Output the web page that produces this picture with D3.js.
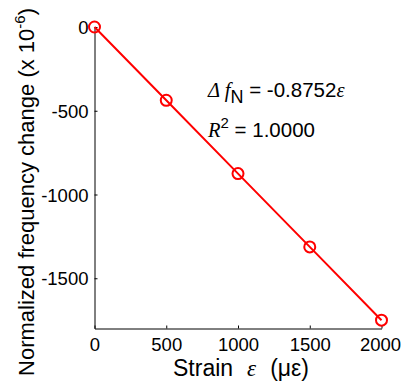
<!DOCTYPE html>
<html>
<head>
<meta charset="utf-8">
<script src="https://cdn.jsdelivr.net/npm/d3@7"></script>
<style>
body { margin: 0; background: #fff; }
text { font-family: "Liberation Sans", Arial, sans-serif; }
</style>
</head>
<body>
<script>
// strain (micro-strain) and normalized frequency change (x 1e-6)
var strain = [0, 500, 1000, 1500, 2000];
var freqChange = [0, -437.6, -875.2, -1312.8, -1750.4];
var xTicks = [0, 500, 1000, 1500, 2000];
var yTicks = [0, -500, -1000, -1500];

var width = 401, height = 386;

var svg = d3.select('body')
        .append('svg')
        .attr('width', width)
        .attr('height', height);

var x = d3.scaleLinear()
        .domain([0, 2000])
        .range([94.5, 381.5]);

var y = d3.scaleLinear()
        .domain([-1800, 0])
        .range([328.5, 27]);

var plain = function(d) { return String(d); };

// x axis
var xAxis = svg.append('g')
        .attr('transform', 'translate(0,328.5)')
        .call(d3.axisBottom(x).tickValues(xTicks).tickFormat(plain)
              .tickSizeInner(-3).tickSizeOuter(0).tickPadding(9));

// y axis
var yAxis = svg.append('g')
        .attr('transform', 'translate(94.5,0)')
        .call(d3.axisLeft(y).tickValues(yTicks).tickFormat(plain)
              .tickSizeInner(-3).tickSizeOuter(0).tickPadding(6));

svg.selectAll('.domain').attr('stroke', '#000').attr('stroke-width', 1);
svg.selectAll('.tick line').attr('stroke', '#000');
svg.selectAll('.tick text')
        .attr('font-size', 18.5)
        .attr('font-family', '"Liberation Sans", Arial, sans-serif')
        .attr('fill', '#000');
yAxis.selectAll('.tick text').attr('dy', '0.36em');
// keep the last label inside the window
xAxis.selectAll('.tick text').filter(function(d) { return d === 2000; }).attr('dx', -1.5);

// axis titles
var xt = svg.append('text')
        .attr('x', 241)
        .attr('y', 376)
        .attr('text-anchor', 'middle')
        .attr('font-size', 23);
xt.append('tspan').text('Strain');
xt.append('tspan').attr('dx', 14).attr('font-family', '"Liberation Serif", serif').attr('font-style', 'italic').text('ε');
xt.append('tspan').attr('dx', 14).text('(με)');

var yt = svg.append('text')
        .attr('transform', 'translate(34,192) rotate(-90)')
        .attr('text-anchor', 'middle')
        .attr('font-size', 22);
yt.append('tspan').text('Normalized frequency change (x 10');
yt.append('tspan').attr('font-size', 15).attr('dy', -9).text('-6');
yt.append('tspan').attr('dy', 9).text(')');

// fit line
var line = d3.line()
        .x(function(d, i) { return x(strain[i]); })
        .y(function(d) { return y(d); });

svg.append('path')
        .datum(freqChange)
        .attr('d', line)
        .attr('fill', 'none')
        .attr('stroke', '#ff0000')
        .attr('stroke-width', 2);

svg.selectAll('circle')
        .data(freqChange)
        .enter()
        .append('circle')
        .attr('cx', function(d, i) { return x(strain[i]); })
        .attr('cy', function(d) { return y(d); })
        .attr('r', 5.5)
        .attr('fill', 'none')
        .attr('stroke', '#ff0000')
        .attr('stroke-width', 2);

// equation annotation
var eq = svg.append('text')
        .attr('x', 208)
        .attr('y', 97)
        .attr('font-size', 20.5);
eq.append('tspan').attr('font-family', '"Liberation Serif", serif').attr('font-style', 'italic').text('Δ f');
eq.append('tspan').attr('font-size', 18).attr('dy', 6).text('N');
eq.append('tspan').attr('dy', -6).text(' = -0.8752');
eq.append('tspan').attr('font-family', '"Liberation Serif", serif').attr('font-style', 'italic').text('ε');

var r2 = svg.append('text')
        .attr('x', 208)
        .attr('y', 137)
        .attr('font-size', 20.5);
r2.append('tspan').attr('font-family', '"Liberation Serif", serif').attr('font-style', 'italic').text('R');
r2.append('tspan').attr('font-size', 15).attr('dy', -9).text('2');
r2.append('tspan').attr('dy', 9).text(' = 1.0000');
</script>
</body>
</html>
